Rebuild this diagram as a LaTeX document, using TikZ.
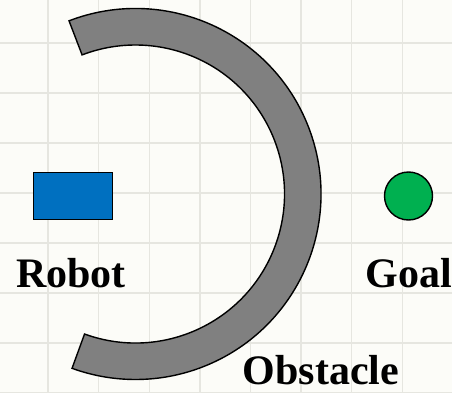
\documentclass[tikz,border=0pt]{standalone}
\usepackage{fontspec}
\setmainfont{Liberation Serif}
\definecolor{bgcol}{HTML}{FCFCF8}
\definecolor{gridcol}{HTML}{E6E6E0}
\definecolor{robotblue}{HTML}{0070C0}
\definecolor{goalgreen}{HTML}{00B050}
\definecolor{obstgray}{HTML}{808080}
\tikzset{
  lbl/.style={font=\fontsize{42}{50}\selectfont\bfseries, anchor=base, inner sep=0pt},
  robotbox/.style={draw=black, line width=1.8pt, fill=robotblue, minimum width=79pt, minimum height=47pt, inner sep=0pt},
  goaldot/.style={circle, draw=black, line width=1.4pt, fill=goalgreen, minimum size=48pt, inner sep=0pt},
  obst/.style={draw=black, line width=1.4pt, fill=obstgray},
  gridline/.style={draw=gridcol, line width=1.4pt}
}
\begin{document}
\begin{tikzpicture}[x=1pt,y=1pt]
\fill[bgcol] (0,0) rectangle (452,392);
\useasboundingbox (0,0) rectangle (452,392);
\begin{scope}
\clip (0,0) rectangle (452,392);
\foreach \k in {0,...,9} {
  \draw[gridline] ({-2.6+50.6*\k},0) -- ({-2.6+50.6*\k},392);
}
\foreach \k in {0,...,8} {
  \draw[gridline] (0,{399-50*\k}) -- (452,{399-50*\k});
}
\end{scope}
\coordinate (C) at (135.5,198);
\draw[obst] (C) ++(111:185.5) arc[start angle=111, end angle=-110, radius=185.5]
  -- ([shift={(-110:149)}]C) arc[start angle=-110, end angle=111, radius=149] -- cycle;
\node[robotbox] (robot) at (73,196) {};
\node[goaldot] (goal) at (408.5,196) {};
\node[lbl] (robotlbl) at (71,105) {Robot};
\node[lbl] (goallbl) at (409,105) {Goal};
\node[lbl] (obstlbl) at (321,8) {Obstacle};
\end{tikzpicture}
\end{document}
